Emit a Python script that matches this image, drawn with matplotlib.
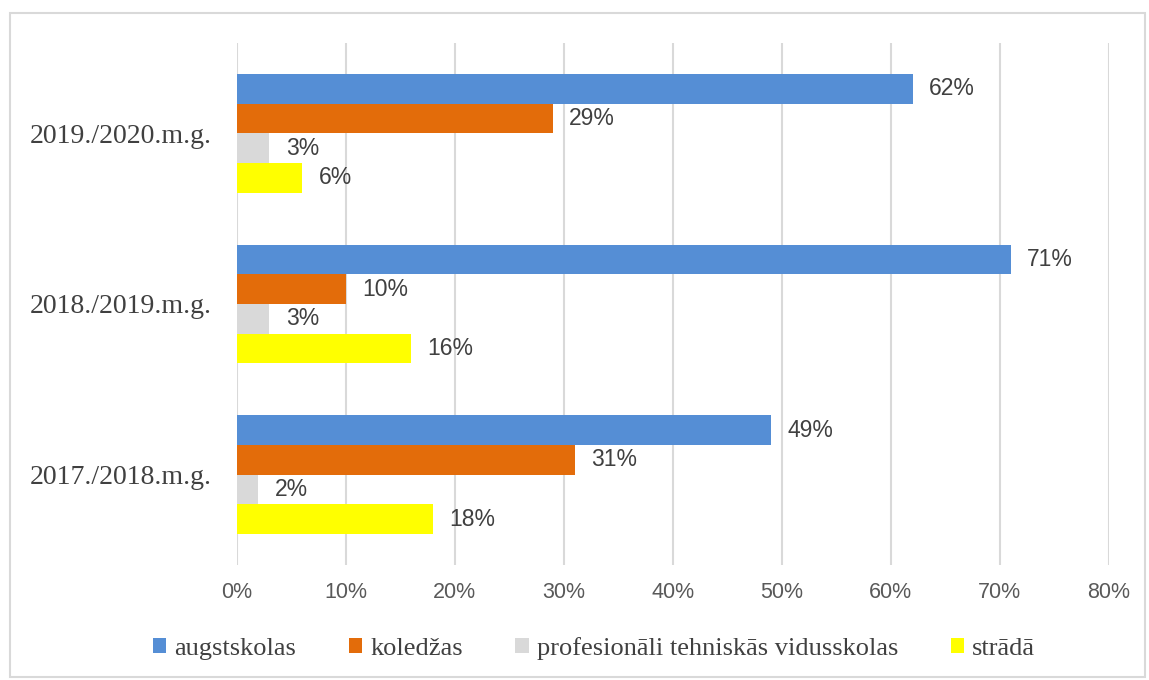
import matplotlib.pyplot as plt
import numpy as np
from matplotlib.patches import Rectangle

years = ["2017./2018.m.g.", "2018./2019.m.g.", "2019./2020.m.g."]
series = ["augstskolas", "koledžas", "profesionāli tehniskās vidusskolas", "strādā"]
augstskolas = [49, 71, 62]
koledzas = [31, 10, 29]
prof_vidusskolas = [2, 3, 3]
strada = [18, 16, 6]
x_ticks = [0, 10, 20, 30, 40, 50, 60, 70, 80]

colors = ["#558ED5", "#E36C0A", "#D9D9D9", "#FFFF00"]
values = [augstskolas, koledzas, prof_vidusskolas, strada]

fig = plt.figure(figsize=(11.49, 6.8), dpi=100)
ax = fig.add_axes([0.206, 0.169, 0.759, 0.768])

y = np.arange(len(years))
h = 0.174
offsets = [1.5 * h, 0.5 * h, -0.5 * h, -1.5 * h]
for name, vals, col, off in zip(series, values, colors, offsets):
    bars = ax.barh(y + off, vals, height=h, color=col, label=name, zorder=2)
    for b, v in zip(bars, vals):
        ax.text(b.get_width() + 1.5, b.get_y() + h / 2, f"{v}%", va="center", ha="left",
                fontsize=16.5, color="#404040", family="Liberation Sans")

ax.set_xlim(0, 80)
ax.set_ylim(-0.53, 2.53)
ax.set_xticks(x_ticks)
ax.set_xticklabels([f"{t}%" for t in x_ticks], fontsize=15.5, color="#595959",
                   family="Liberation Sans")
ax.set_yticks(y)
ax.set_yticklabels(years, fontsize=20, color="#404040", family="Liberation Serif")
ax.tick_params(axis="both", length=0)
ax.tick_params(axis="x", pad=12)
ax.tick_params(axis="y", pad=18)
ax.grid(axis="x", color="#D9D9D9", linewidth=1.5, zorder=0)
for s in ax.spines.values():
    s.set_visible(False)

leg = fig.legend(loc="center", bbox_to_anchor=(0.517, 0.047), ncol=4, frameon=False,
                 prop={"family": "Liberation Serif", "size": 19}, handlelength=0.5,
                 handleheight=0.5, handletextpad=0.3, columnspacing=2.0)
for t in leg.get_texts():
    t.set_color("#404040")

fig.patches.append(Rectangle((10 / 1149, 3 / 680), 1135 / 1149, 664 / 680,
                             transform=fig.transFigure, fill=False,
                             edgecolor="#D9D9D9", linewidth=1.5))

fig.savefig("out.png", dpi=100)
